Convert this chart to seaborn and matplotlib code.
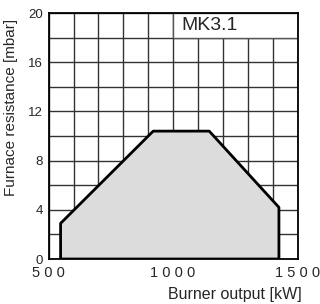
import matplotlib
matplotlib.use("Agg")
import matplotlib.pyplot as plt
import seaborn as sns
import pandas as pd
from matplotlib.patches import Rectangle

# working field outline of the burner (kW vs mbar)
output_kw = [548, 548, 920, 1145, 1425, 1425, 548]
resistance_mbar = [0, 2.9, 10.4, 10.4, 4.2, 0, 0]

x_ticks = [500, 1000, 1500]
x_tick_labels = ["5 0 0", "1 0 0 0", "1 5 0 0"]
y_ticks = [0, 4, 8, 12, 16, 20]
model_name = "MK3.1"

sns.set_style("white")
plt.rcParams['font.family'] = ['Liberation Sans', 'DejaVu Sans']

field = pd.DataFrame({"output": output_kw, "resistance": resistance_mbar})

fig = plt.figure(figsize=(3.2, 3.04), dpi=100)
ax = fig.add_axes([0.152, 0.148, 0.778, 0.809])

ax.fill(field["output"], field["resistance"], color="#dcdcdc", zorder=1)
sns.lineplot(data=field, x="output", y="resistance", sort=False,
             estimator=None, color="black", linewidth=2, ax=ax, zorder=3)

ax.set_xlim(500, 1500)
ax.set_ylim(0, 20)
ax.set_xticks(x_ticks)
ax.set_xticklabels(x_tick_labels, fontsize=10.5)
ax.set_xticks(range(500, 1501, 100), minor=True)
ax.set_yticks(y_ticks)
ax.set_yticklabels([str(v) for v in y_ticks], fontsize=9.5)
ax.set_yticks(range(0, 21, 2), minor=True)
ax.tick_params(axis="both", which="both", length=0)
ax.tick_params(axis="x", pad=5)
ax.tick_params(axis="y", pad=4)
ax.grid(True, which="both", color="#333333", linewidth=1)
ax.set_axisbelow(True)
for sp in ax.spines.values():
    sp.set_color("black")
    sp.set_linewidth(1.3)

# model label box in the top right corner
ax.add_patch(Rectangle((1000, 18), 500, 2, facecolor="white",
                       edgecolor="#555555", linewidth=1, zorder=2))
ax.text(1034, 18.95, model_name, fontsize=14, ha="left", va="center", zorder=4)

ax.set_xlabel("")
ax.set_ylabel("")
fig.text(302 / 320, 1 - 294 / 304, "Burner output [kW]", fontsize=11.5,
         ha="right", va="center")
fig.text(11 / 320, 1 - 107 / 304, "Furnace resistance [mbar]", fontsize=11,
         rotation=90, ha="center", va="center")

fig.savefig("out.png", dpi=100)
